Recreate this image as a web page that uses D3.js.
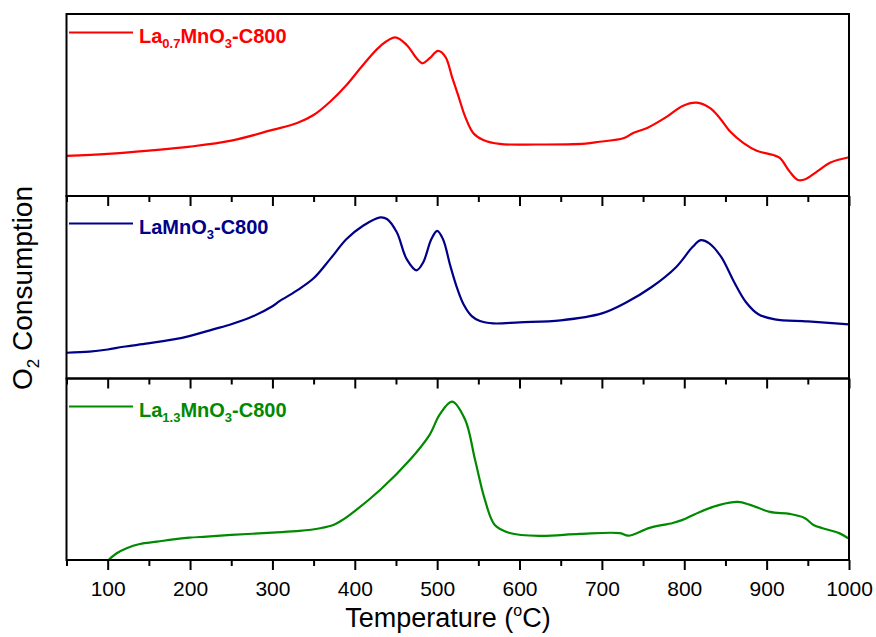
<!DOCTYPE html>
<html>
<head>
<meta charset="utf-8">
<script src="https://cdn.jsdelivr.net/npm/d3@7"></script>
<style>
  html, body { margin: 0; padding: 0; background: #fff; }
  svg { display: block; font-family: Arial, "Liberation Sans", sans-serif; }
</style>
</head>
<body>
<svg id="chart" width="876" height="637"></svg>
<script>
// ---------------- data ----------------
const xTicks = [100, 200, 300, 400, 500, 600, 700, 800, 900, 1000];
const xMinorTicks = [50, 150, 250, 350, 450, 550, 650, 750, 850, 950];

// La0.7MnO3-C800 (red), arbitrary units 0-100 within its panel
const redT = [50,100,150,200,250,300,330,350,370,390,410,431,449,463,475,482,491,501,510,518,526,534,544,556,576,620,680,697,726,738,755,779,798,815,831,843,856,872,888,908,916,928,938,947,961,977,1000];
const redV = [22.0,23.1,24.9,27.1,30.4,36.3,40.1,44.5,51.8,61.0,72.0,82.4,87.2,83.0,75.7,72.9,75.7,79.7,76.5,65.5,54.6,43.6,34.5,30.8,28.6,28.3,28.8,29.8,31.7,34.6,37.4,43.6,49.5,51.3,48.4,42.9,35.3,29.1,24.9,22.5,20.9,13.4,8.8,9.2,13.4,18.3,21.3];

// LaMnO3-C800 (blue)
const blueT = [50,78,100,119,149,180,199,228,250,277,300,309,329,350,370,390,410,431,439,451,463,475,483,493,500,507,516,524,532,542,552,568,600,650,700,730,760,790,810,820,830,845,860,875,890,910,950,1000];
const blueV = [14.1,14.7,15.9,17.4,19.2,21.4,23.2,26.9,29.7,34.2,39.6,42.5,48.0,54.9,65.4,76.4,83.7,88.3,87.4,80.1,65.4,59.3,63.6,76.4,80.9,76.4,61.7,49.8,40.7,34.2,31.5,30.2,30.8,31.9,35.7,41.8,50.0,61.0,72.0,75.8,74.2,66.5,53.3,41.8,35.2,32.4,31.3,29.7];

// La1.3MnO3-C800 (green)
const greenT = [101,111,123,139,160,180,199,220,250,300,333,358,374,382,394,431,467,491,503,518,534,546,558,570,588,625,673,722,732,758,786,798,819,843,865,880,904,928,946,957,968,988,999];
const greenV = [0,3.7,6.5,8.8,10.1,11.4,12.3,12.9,13.8,15.1,16.0,17.5,19.3,21.2,24.9,38.7,55.2,69.1,80.1,87.3,77.3,55.2,33.1,19.3,14.9,13.3,14.4,14.8,13.4,17.7,20.4,22.1,26.5,30.4,32.0,30.4,26.5,25.4,23.2,19.3,17.5,14.8,12.0];

const seriesNames = [
  [["La",""],["0.7","sub"],["MnO",""],["3","sub"],["-C800",""]],
  [["LaMnO",""],["3","sub"],["-C800",""]],
  [["La",""],["1.3","sub"],["MnO",""],["3","sub"],["-C800",""]]
];
const seriesColors = ["#ff0000", "#000088", "#008a00"];
const xTitle = "Temperature (";
const yTitle = "Consumption";

// ---------------- layout ----------------
const svg = d3.select("#chart");
const left = 66.5, right = 849;
const panels = [
  { top: 14, bottom: 196 },
  { top: 196, bottom: 378.5 },
  { top: 378.5, bottom: 560 }
];
const x = d3.scaleLinear().domain([50, 1000]).range([left, right]);

const data = [
  redT.map((t, i) => [t, redV[i]]),
  blueT.map((t, i) => [t, blueV[i]]),
  greenT.map((t, i) => [t, greenV[i]])
];

const defs = svg.append("defs");

panels.forEach((p, k) => {
  const y = d3.scaleLinear().domain([0, 100]).range([p.bottom, p.top]);
  defs.append("clipPath").attr("id", "clip" + k)
    .append("rect").attr("x", left).attr("y", p.top).attr("width", right - left).attr("height", p.bottom - p.top);

  const line = d3.line().x(d => x(d[0])).y(d => y(d[1])).curve(d3.curveCatmullRom.alpha(0.5));
  svg.append("path")
    .datum(data[k])
    .attr("clip-path", "url(#clip" + k + ")")
    .attr("fill", "none")
    .attr("stroke", seriesColors[k])
    .attr("stroke-width", 2.2)
    .attr("stroke-linejoin", "round")
    .attr("d", line);

  // bottom axis of each panel (ticks pointing down)
  const isLast = k === panels.length - 1;
  const axMajor = d3.axisBottom(x).tickValues(xTicks).tickSize(10)
    .tickFormat(isLast ? d3.format("d") : () => "");
  const g = svg.append("g").attr("transform", `translate(0,${p.bottom})`).call(axMajor);
  g.select(".domain").remove();
  g.selectAll(".tick line").attr("stroke", "#000").attr("stroke-width", 2);
  g.selectAll(".tick text").attr("font-size", 21).attr("fill", "#000")
    .attr("font-family", "Arial, 'Liberation Sans', sans-serif").attr("dy", 0).attr("y", 36);
  const axMinor = d3.axisBottom(x).tickValues(xMinorTicks).tickSize(6).tickFormat(() => "");
  const gm = svg.append("g").attr("transform", `translate(0,${p.bottom})`).call(axMinor);
  gm.select(".domain").remove();
  gm.selectAll(".tick line").attr("stroke", "#000").attr("stroke-width", 2);

  // panel frame
  svg.append("rect")
    .attr("x", left).attr("y", p.top)
    .attr("width", right - left).attr("height", p.bottom - p.top)
    .attr("fill", "none").attr("stroke", "#000").attr("stroke-width", 2);

  // legend
  const ly = [32.5, 223.5, 406.5][k];
  svg.append("line")
    .attr("x1", 69).attr("x2", 133).attr("y1", ly).attr("y2", ly)
    .attr("stroke", seriesColors[k]).attr("stroke-width", 2.2);
  const t = svg.append("text")
    .attr("x", 139).attr("y", ly + 10.5)
    .attr("fill", seriesColors[k])
    .attr("font-weight", "bold")
    .attr("font-size", 20);
  let shifted = false;
  seriesNames[k].forEach(([s, kind]) => {
    const ts = t.append("tspan").text(s);
    if (kind === "sub") {
      ts.attr("font-size", 13).attr("dy", 5); shifted = true;
    } else if (shifted) {
      ts.attr("dy", -5); shifted = false;
    }
  });
});

// x axis title
const xt = svg.append("text")
  .attr("x", 448).attr("y", 627)
  .attr("text-anchor", "middle")
  .attr("font-size", 27).attr("fill", "#000");
xt.append("tspan").text(xTitle);
xt.append("tspan").text("o").attr("font-size", 16).attr("dy", -11);
xt.append("tspan").text("C)").attr("dy", 11);

// y axis title
const yt = svg.append("text")
  .attr("transform", "translate(32,288) rotate(-90)")
  .attr("text-anchor", "middle")
  .attr("font-size", 28).attr("fill", "#000");
yt.append("tspan").text("O");
yt.append("tspan").text("2").attr("font-size", 17).attr("dy", 7);
yt.append("tspan").text(" " + yTitle).attr("dy", -7);
</script>
</body>
</html>
